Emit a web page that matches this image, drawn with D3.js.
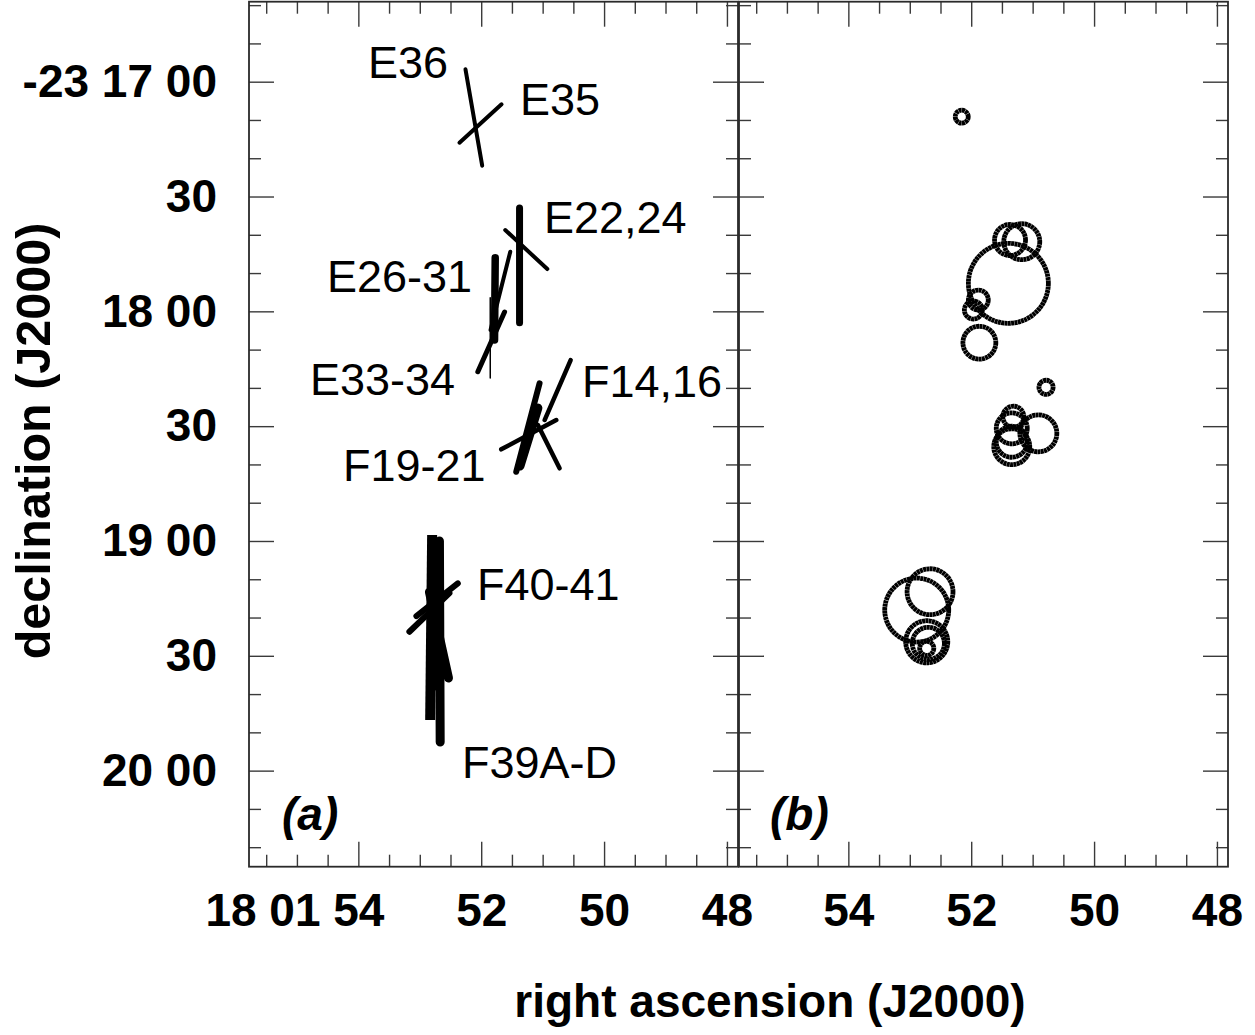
<!DOCTYPE html>
<html>
<head>
<meta charset="utf-8">
<script src="https://cdn.jsdelivr.net/npm/d3@7"></script>
<style>
  body { margin: 0; background: #fff; }
  svg { display: block; }
</style>
</head>
<body>
<svg id="chart" width="1255" height="1035"></svg>
<script>
// Coordinates: RA in seconds of time after 18h 01m; Dec in arcsec south of -23°17'00".

// Panel (a): vectors as [name, ra1, dec1, ra2, dec2, weight]
const vectors = [
  ["E36", 52.256, -3.24, 51.984, 21.95, 4],
  ["E35", 52.354, 15.94, 51.669, 5.91, 4],
  ["E22", 51.376, 33.00, 51.376, 62.97, 7],
  ["E24", 51.609, 38.75, 50.924, 48.94, 4],
  ["E26", 51.772, 45.99, 51.783, 67.49, 7.5],
  ["E28", 51.527, 44.42, 51.848, 64.88, 4],
  ["E33", 52.055, 75.78, 51.620, 60.18, 5],
  ["E34", 51.853, 56.44, 51.853, 77.42, 1.5],
  ["F14", 50.544, 72.72, 50.968, 88.40, 4.5],
  ["F16", 51.077, 89.70, 50.724, 101.02, 4.5],
  ["F19", 51.050, 78.81, 51.430, 101.91, 6],
  ["F20", 51.077, 85.26, 51.368, 100.42, 9],
  ["F21", 50.778, 88.40, 51.674, 96.06, 4.5],
  ["F39A", 52.799, 118.45, 52.831, 166.79, 10],
  ["F39B", 52.680, 120.02, 52.668, 172.54, 9],
  ["F39C", 52.843, 133.34, 52.533, 155.81, 9],
  ["F39D", 52.735, 121.50, 52.760, 158.00, 8],
  ["F40", 53.169, 143.72, 52.517, 133.60, 6],
  ["F41", 53.055, 139.61, 52.381, 131.07, 6]
];

// Vector group labels: [text, ra, dec]
const vectorLabels = [
  ["E36", 53.843, -0.97],
  ["E35", 51.369, 8.70],
  ["E22,24", 50.978, 39.53],
  ["E26-31", 54.510, 54.95],
  ["E33-34", 54.787, 81.86],
  ["F14,16", 50.359, 82.38],
  ["F19-21", 54.250, 104.33],
  ["F40-41", 52.068, 135.42],
  ["F39A-D", 52.313, 181.93]
];

// Panel (b): sources as [ra, dec, radius in arcsec]
const sources = [
  [52.154, 9.15, 1.7],
  [51.368, 41.36, 4.05],
  [51.177, 41.81, 4.7],
  [51.395, 52.68, 10.45],
  [51.884, 57.04, 2.6],
  [51.965, 59.66, 2.35],
  [51.867, 68.20, 4.3],
  [50.782, 79.85, 1.85],
  [51.314, 87.54, 2.75],
  [51.340, 90.57, 4.05],
  [51.340, 94.07, 4.05],
  [51.340, 95.37, 4.7],
  [50.907, 91.87, 4.83],
  [52.887, 138.05, 8.36],
  [52.670, 133.26, 6.0],
  [52.724, 146.33, 5.5],
  [52.698, 146.75, 4.2],
  [52.724, 148.05, 1.85]
];

// Axis ticks and labels
const raMajor = [54, 52, 50, 48];
const raMinor = d3.range(48, 55.6, 0.5).filter(v => !raMajor.includes(v));
const decMajor = [0, 30, 60, 90, 120, 150, 180];
const decMajorLabels = ["-23 17 00", "30", "18 00", "30", "19 00", "30", "20 00"];
const decMinor = d3.range(-20, 201, 10).filter(v => !decMajor.includes(v));
const raPrefix = "18 01 ";

const svg = d3.select("#chart");
const FONT = "'Liberation Sans', Arial, Helvetica, sans-serif";
const W = 489, H = 865, TOP = 1.7;
const panelsX = [249, 739];

const x = d3.scaleLinear().domain([55.78, 47.82]).range([0, W]);
const y = d3.scaleLinear().domain([-20.9, 205.1]).range([0, H]);
const arcsecPx = Math.abs(y(1) - y(0));
const widthScale = d3.scaleLinear().domain([0, 10]).range([0, 10]);

const TICK_COLOR = "#3a3a3a";

function frame(g, withYLabels) {
  const axes = g.append("g");
  const mk = (axis, tf) => {
    const a = axes.append("g").attr("transform", tf).call(axis);
    a.select(".domain").remove();
    a.selectAll(".tick line").attr("stroke", TICK_COLOR).attr("stroke-width", 1.4);
    return a;
  };
  // top and bottom
  mk(d3.axisTop(x).tickValues(raMajor).tickSizeInner(-25).tickSizeOuter(0).tickFormat(""), "translate(0,0)");
  mk(d3.axisTop(x).tickValues(raMinor).tickSizeInner(-12).tickSizeOuter(0).tickFormat(""), "translate(0,0)");
  const bottom = mk(d3.axisBottom(x).tickValues(raMajor).tickSizeInner(-25).tickSizeOuter(0)
      .tickPadding(27).tickFormat(d => String(d)), `translate(0,${H})`);
  mk(d3.axisBottom(x).tickValues(raMinor).tickSizeInner(-12).tickSizeOuter(0).tickFormat(""), `translate(0,${H})`);
  bottom.selectAll("text")
    .attr("font-family", FONT).attr("font-weight", "bold").attr("font-size", 46).attr("fill", "#000");
  // left and right
  const left = mk(d3.axisLeft(y).tickValues(decMajor).tickSizeInner(-25).tickSizeOuter(0)
      .tickPadding(32).tickFormat((d, i) => withYLabels ? decMajorLabels[i] : ""), "translate(0,0)");
  mk(d3.axisLeft(y).tickValues(decMinor).tickSizeInner(-12).tickSizeOuter(0).tickFormat(""), "translate(0,0)");
  mk(d3.axisRight(y).tickValues(decMajor).tickSizeInner(-25).tickSizeOuter(0).tickFormat(""), `translate(${W},0)`);
  mk(d3.axisRight(y).tickValues(decMinor).tickSizeInner(-12).tickSizeOuter(0).tickFormat(""), `translate(${W},0)`);
  left.selectAll("text")
    .attr("font-family", FONT).attr("font-weight", "bold").attr("font-size", 46).attr("fill", "#000");
  // border
  g.append("rect").attr("x", 0).attr("y", 0).attr("width", W).attr("height", H)
    .attr("fill", "none").attr("stroke", "#2a2a2a").attr("stroke-width", 1.8);
  return bottom;
}

// ---- Panel (a)
const ga = svg.append("g").attr("transform", `translate(${panelsX[0]},${TOP})`);
const bottomA = frame(ga, true);
// first RA label carries the hours/minutes prefix
const firstTick = bottomA.selectAll(".tick text").filter(d => d === raMajor[0]);
const half = firstTick.node().getComputedTextLength() / 2;
firstTick.text(raPrefix + raMajor[0]).attr("text-anchor", "end").attr("x", half);

ga.append("g").selectAll("line").data(vectors).join("line")
  .attr("x1", d => x(d[1])).attr("y1", d => y(d[2]))
  .attr("x2", d => x(d[3])).attr("y2", d => y(d[4]))
  .attr("stroke", "#000")
  .attr("stroke-width", d => widthScale(d[5]))
  .attr("stroke-linecap", d => d[0] === "F39A" ? "butt" : "round");

ga.append("g").selectAll("text").data(vectorLabels).join("text")
  .attr("x", d => x(d[1])).attr("y", d => y(d[2]))
  .attr("font-family", FONT).attr("font-size", 45).attr("fill", "#000")
  .text(d => d[0]);

ga.append("text").attr("x", 33).attr("y", 828)
  .attr("font-family", FONT).attr("font-size", 46).attr("font-weight", "bold")
  .attr("font-style", "italic").text("(a)");

// ---- Panel (b)
const gb = svg.append("g").attr("transform", `translate(${panelsX[1]},${TOP})`);
frame(gb, false);

gb.append("g").selectAll("circle").data(sources).join("circle")
  .attr("cx", d => x(d[0])).attr("cy", d => y(d[1]))
  .attr("r", d => d[2] * arcsecPx)
  .attr("fill", "none").attr("stroke", "#000")
  .attr("stroke-width", 4.8).attr("stroke-dasharray", "3 0.35");

gb.append("text").attr("x", 31).attr("y", 828)
  .attr("font-family", FONT).attr("font-size", 46).attr("font-weight", "bold")
  .attr("font-style", "italic").text("(b)");

// ---- Axis titles
svg.append("text").attr("x", 770).attr("y", 1017).attr("text-anchor", "middle")
  .attr("font-family", FONT).attr("font-size", 46).attr("font-weight", "bold")
  .text("right ascension (J2000)");
svg.append("text").attr("transform", "translate(50,441) rotate(-90)").attr("text-anchor", "middle")
  .attr("font-family", FONT).attr("font-size", 48.5).attr("font-weight", "bold")
  .text("declination (J2000)");
</script>
</body>
</html>
